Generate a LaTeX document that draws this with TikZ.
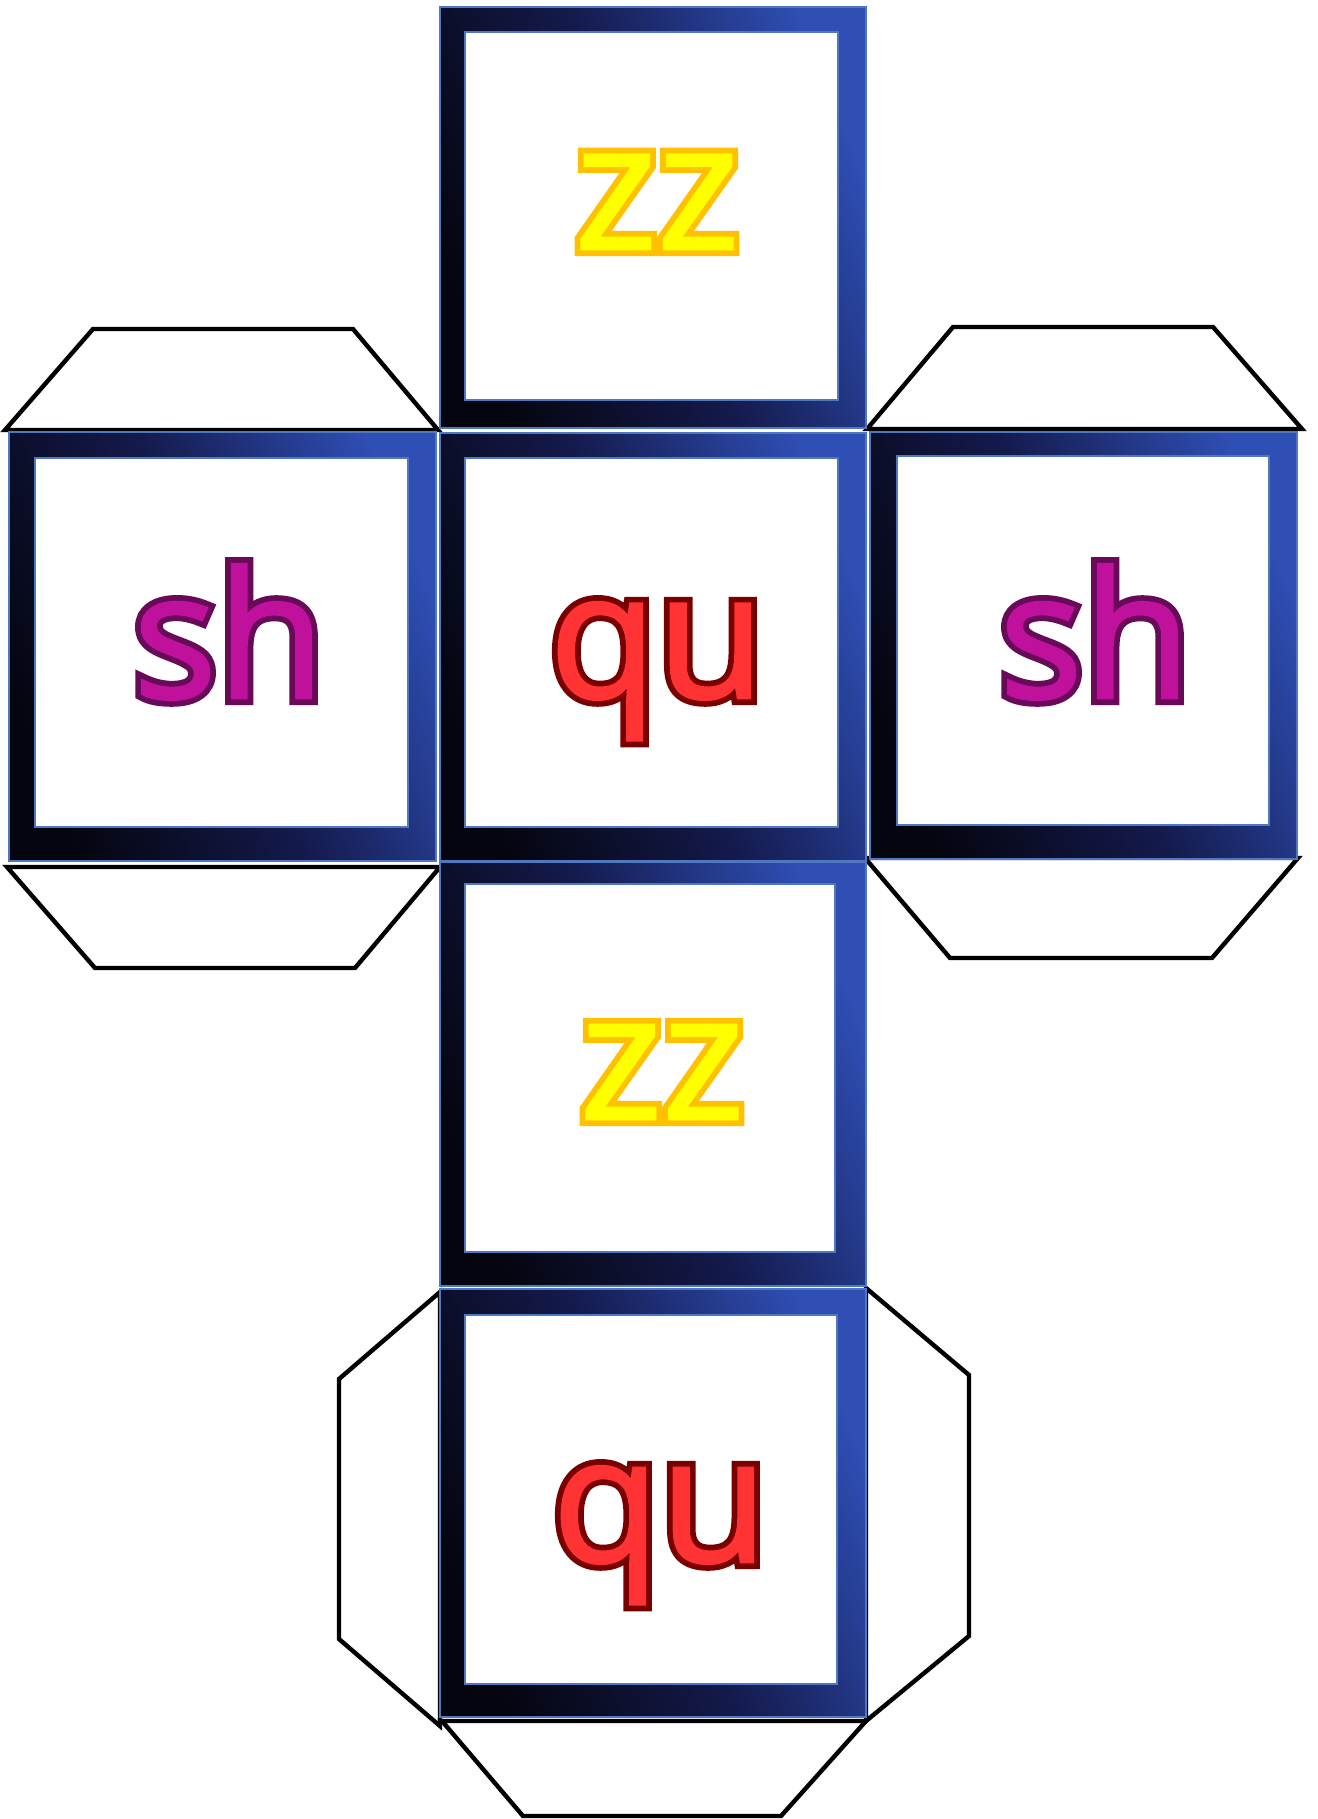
\documentclass[tikz,border=0pt]{standalone}
\usepackage{fontspec}
\setmainfont{Open Sans}
\newfontfamily\letterfont[FakeBold=1.5]{Open Sans}
\newfontfamily\letteroutline[FakeBold=8]{Open Sans}
\definecolor{zzfill}{HTML}{FFFF00}
\definecolor{zzline}{HTML}{FFC000}
\definecolor{shfill}{HTML}{C0119C}
\definecolor{shline}{HTML}{68095A}
\definecolor{qufill}{HTML}{FF3333}
\definecolor{quline}{HTML}{7A0000}
\definecolor{framedark}{HTML}{05050F}
\definecolor{framemid}{HTML}{141A4C}
\definecolor{framelight}{HTML}{2F4FB5}
\definecolor{frameedge}{HTML}{4F78C0}
\tikzset{
  tabline/.style={draw=black, fill=white, line width=2.2pt, line join=miter},
  framefill/.style={left color=framedark, right color=framelight, middle color=framemid, shading angle=112},
}
\newcommand\dieface[8]{%
  \shade[framefill] (#1,#2) rectangle (#3,#4);
  \draw[frameedge, line width=0.6pt] (#1,#2) rectangle (#3,#4);
  \fill[white, draw=frameedge, line width=0.8pt] (#5,#6) rectangle (#7,#8);}
\newcommand\dieletter[6]{%
  \node[anchor=base, inner sep=0pt, text=#5, font=\letteroutline\fontsize{88}{88}\selectfont] at (#2,#3) {#6};
  \node[anchor=base, inner sep=0pt, text=#4, font=\letterfont\fontsize{88}{88}\selectfont] (#1) at (#2,#3) {#6};}
\begin{document}
\begin{tikzpicture}[x=0.5pt,y=-0.5pt]
\useasboundingbox[fill=white] (0,0) rectangle (1317,1819);
% tabs
\draw[tabline] (5,430) -- (93,329) -- (353,329) -- (438,430) -- cycle;
\draw[tabline] (867,429) -- (953,327) -- (1213,327) -- (1302,429) -- cycle;
\draw[tabline] (7,867) -- (95,968) -- (355,968) -- (440,867) -- cycle;
\draw[tabline] (865,858) -- (950,958) -- (1212,958) -- (1298,858) -- cycle;
\draw[tabline] (440,1292) -- (339,1379) -- (339,1639) -- (440,1726) -- cycle;
\draw[tabline] (866,1288) -- (969,1375) -- (969,1636) -- (866,1721) -- cycle;
\draw[tabline] (442,1721) -- (523,1816) -- (781,1816) -- (866,1721) -- cycle;
% faces
\dieface{440}{7}{866}{428}{465}{32}{838}{400}
\dieface{9}{432}{436}{861}{35}{458}{408}{827}
\dieface{440}{433}{866}{861}{465}{458}{838}{827}
\dieface{870}{432}{1297}{859}{897}{456}{1269}{825}
\dieface{440}{862}{866}{1286}{465}{884}{835}{1252}
\dieface{440}{1289}{866}{1717}{465}{1315}{837}{1684}
% letters
\dieletter{zztop}{657}{249}{zzfill}{zzline}{zz}
\dieletter{shleft}{229}{698}{shfill}{shline}{sh}
\dieletter{qucenter}{657}{698}{qufill}{quline}{qu}
\dieletter{shright}{1095}{698}{shfill}{shline}{sh}
\dieletter{zzlow}{662}{1119}{zzfill}{zzline}{zz}
\dieletter{qubottom}{660}{1562}{qufill}{quline}{qu}
\end{tikzpicture}
\end{document}
